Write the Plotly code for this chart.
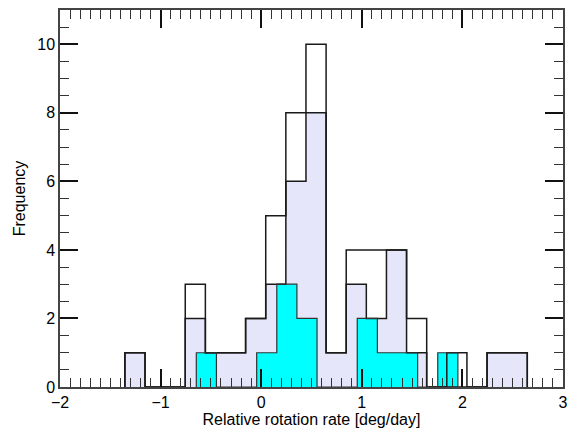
import plotly.graph_objects as go

# ---- data ----
bin_width = 0.2
main_first_edge = -1.355
total_counts = [1, 0, 0, 3, 1, 1, 2, 5, 8, 10, 1, 4, 4, 4, 2, 0, 1, 0, 1, 1]
subset_counts = [1, 0, 0, 2, 1, 1, 2, 3, 6, 8, 1, 3, 2, 4, 1, 0, 0, 0, 1, 1]
cyan_first_edge = -0.645
cyan_counts = [1, 0, 0, 1, 3, 2, 0, 0, 2, 1, 1, 0, 1]

x_title = "Relative rotation rate [deg/day]"
y_title = "Frequency"
x_range = [-2, 3]
y_range = [0, 11]


def step_path(first_edge, counts):
    edges = [first_edge + i * bin_width for i in range(len(counts) + 1)]
    xs = [edges[0]] + edges + [edges[-1]]
    ys = [0] + list(counts) + [counts[-1], 0]
    return xs, ys


FONT = "Liberation Sans, Arial, Helvetica, sans-serif"
fig = go.Figure()

sx, sy = step_path(main_first_edge, subset_counts)
cx, cy = step_path(cyan_first_edge, cyan_counts)
tx, ty = step_path(main_first_edge, total_counts)

# fills
fig.add_trace(go.Scatter(x=sx, y=sy, mode="lines", line=dict(shape="hv", width=0),
                         fill="tozeroy", fillcolor="#E6E6FA", hoverinfo="skip"))
fig.add_trace(go.Scatter(x=cx, y=cy, mode="lines", line=dict(shape="hv", width=0),
                         fill="tozeroy", fillcolor="#00FFFF", hoverinfo="skip"))
# outlines
fig.add_trace(go.Scatter(x=tx, y=ty, mode="lines",
                         line=dict(shape="hv", width=1.5, color="#1a1a1a")))
fig.add_trace(go.Scatter(x=sx, y=sy, mode="lines",
                         line=dict(shape="hv", width=1.5, color="#1a1a1a")))
fig.add_trace(go.Scatter(x=cx, y=cy, mode="lines",
                         line=dict(shape="hv", width=1.2, color="#333333")))

axis_common = dict(
    showline=True, linecolor="#444444", linewidth=1.5, mirror="allticks",
    ticks="inside", ticklen=18, tickwidth=1.5, tickcolor="#111111",
    showgrid=False, zeroline=False,
    tickfont=dict(family=FONT, size=16, color="black"),
    title_font=dict(family=FONT, size=16, color="black"),
)

fig.update_xaxes(range=x_range, dtick=1, tick0=0,
                 minor=dict(dtick=0.1, ticks="inside", ticklen=9, tickwidth=1, tickcolor="#333333"),
                 title_text=x_title, title_standoff=0, **axis_common)
fig.update_yaxes(range=y_range, dtick=2, tick0=0,
                 minor=dict(dtick=0.5, ticks="inside", ticklen=9, tickwidth=1, tickcolor="#333333"),
                 title_text=y_title, title_standoff=8, **axis_common)

# the page body keeps its default 8px margin, so the figure is sized for the rest of the window
fig.update_layout(
    width=569, height=423, autosize=False,
    margin=dict(l=52, r=14, t=0, b=44),
    plot_bgcolor="white", paper_bgcolor="white",
    showlegend=False,
)

fig.write_html("out.html")
